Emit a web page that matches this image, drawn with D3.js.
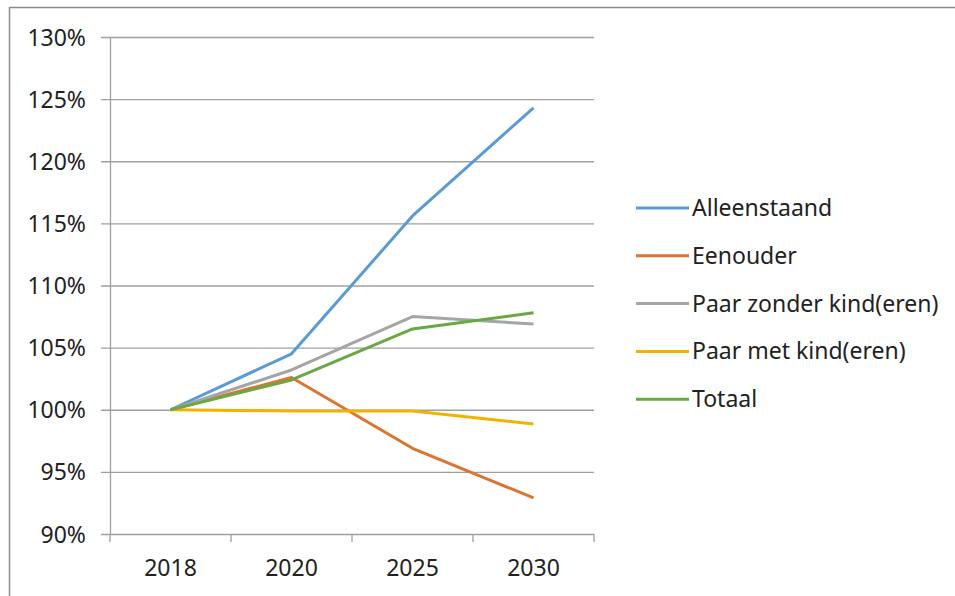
<!DOCTYPE html>
<html>
<head>
<meta charset="utf-8">
<script src="https://cdn.jsdelivr.net/npm/d3@7"></script>
<style>
    body { margin: 0; background: #fff; }
    #chart { width: 955px; height: 596px; }
    text { font-family: "Noto Sans", "Open Sans", sans-serif; fill: #222; }
</style>
</head>
<body>
<div id="chart"></div>
<script>
var years = ["2018", "2020", "2025", "2030"];
var yTicks = [0.90, 0.95, 1.00, 1.05, 1.10, 1.15, 1.20, 1.25, 1.30];

var seriesNames = ["Alleenstaand", "Eenouder", "Paar zonder kind(eren)", "Paar met kind(eren)", "Totaal"];
var seriesColors = ["#5b9bd5", "#dd7430", "#a5a5a5", "#f0b400", "#6aa843"];

var alleenstaand = [1.000, 1.045, 1.156, 1.243];
var eenouder     = [1.000, 1.026, 0.969, 0.929];
var paarZonder   = [1.000, 1.032, 1.075, 1.069];
var paarMet      = [1.000, 0.999, 0.999, 0.9885];
var totaal       = [1.000, 1.024, 1.065, 1.078];

var seriesValues = [alleenstaand, eenouder, paarZonder, paarMet, totaal];

function init() {
    var margin = { top: 37, left: 110 },
        width = 484,
        height = 497;

    var svg = d3.select("#chart")
        .append("svg")
        .attr("width", 955)
        .attr("height", 596);

    // chart frame (runs off the right and bottom of the picture)
    svg.append("rect")
        .attr("x", 9.5)
        .attr("y", 7.5)
        .attr("width", 1000)
        .attr("height", 1000)
        .style("fill", "none")
        .style("stroke", "#8c8c8c")
        .style("stroke-width", 1.5);

    var g = svg.append("g")
        .attr("transform", "translate(" + margin.left + "," + margin.top + ")");

    var x = d3.scaleBand()
        .domain(years)
        .range([0, width]);

    var y = d3.scaleLinear()
        .domain([0.90, 1.30])
        .range([height, 0]);

    // horizontal gridlines + y axis
    var yAxis = g.append("g")
        .call(d3.axisLeft(y)
            .tickValues(yTicks)
            .tickSize(-width)
            .tickFormat(d3.format(".0%")));
    yAxis.select(".domain").remove();
    yAxis.selectAll(".tick line")
        .attr("x1", -9)
        .style("stroke", "#a0a0a0")
        .style("stroke-width", 1.3);
    yAxis.selectAll(".tick text")
        .style("font-size", "23px")
        .attr("x", -24)
        .attr("dy", "0.35em");

    g.append("line")
        .attr("x1", 0.5).attr("x2", 0.5)
        .attr("y1", 0).attr("y2", height)
        .style("stroke", "#a0a0a0")
        .style("stroke-width", 1.3);

    // x axis
    var xAxis = g.append("g")
        .attr("transform", "translate(0," + height + ")")
        .call(d3.axisBottom(x).tickSize(0).tickPadding(26));
    xAxis.select(".domain").remove();
    xAxis.selectAll(".tick text")
        .style("font-size", "23px");

    var bounds = [0].concat(years.map(function (d) { return x(d) + x.bandwidth(); }));
    g.selectAll(".xtick")
        .data(bounds)
        .enter()
        .append("line")
        .attr("x1", function (d) { return d; })
        .attr("x2", function (d) { return d; })
        .attr("y1", height)
        .attr("y2", height + 8)
        .style("stroke", "#a0a0a0")
        .style("stroke-width", 1.3);

    var line = d3.line()
        .x(function (d, i) { return x(years[i]) + x.bandwidth() / 2; })
        .y(function (d) { return y(d); });

    g.selectAll(".series")
        .data(seriesValues)
        .enter()
        .append("path")
        .attr("d", function (d) { return line(d); })
        .style("fill", "none")
        .style("stroke", function (d, i) { return seriesColors[i]; })
        .style("stroke-width", 3)
        .style("stroke-linejoin", "round");

    // legend
    var legend = svg.append("g")
        .attr("transform", "translate(636,208)");

    var item = legend.selectAll(".item")
        .data(seriesNames)
        .enter()
        .append("g")
        .attr("transform", function (d, i) { return "translate(0," + (i * 47.8) + ")"; });

    item.append("line")
        .attr("x1", 0).attr("x2", 53)
        .style("stroke", function (d, i) { return seriesColors[i]; })
        .style("stroke-width", 3);

    item.append("text")
        .attr("x", 56)
        .attr("dy", "0.35em")
        .style("font-size", "23px")
        .text(function (d) { return d; });
}

window.onload = init;
</script>
</body>
</html>
